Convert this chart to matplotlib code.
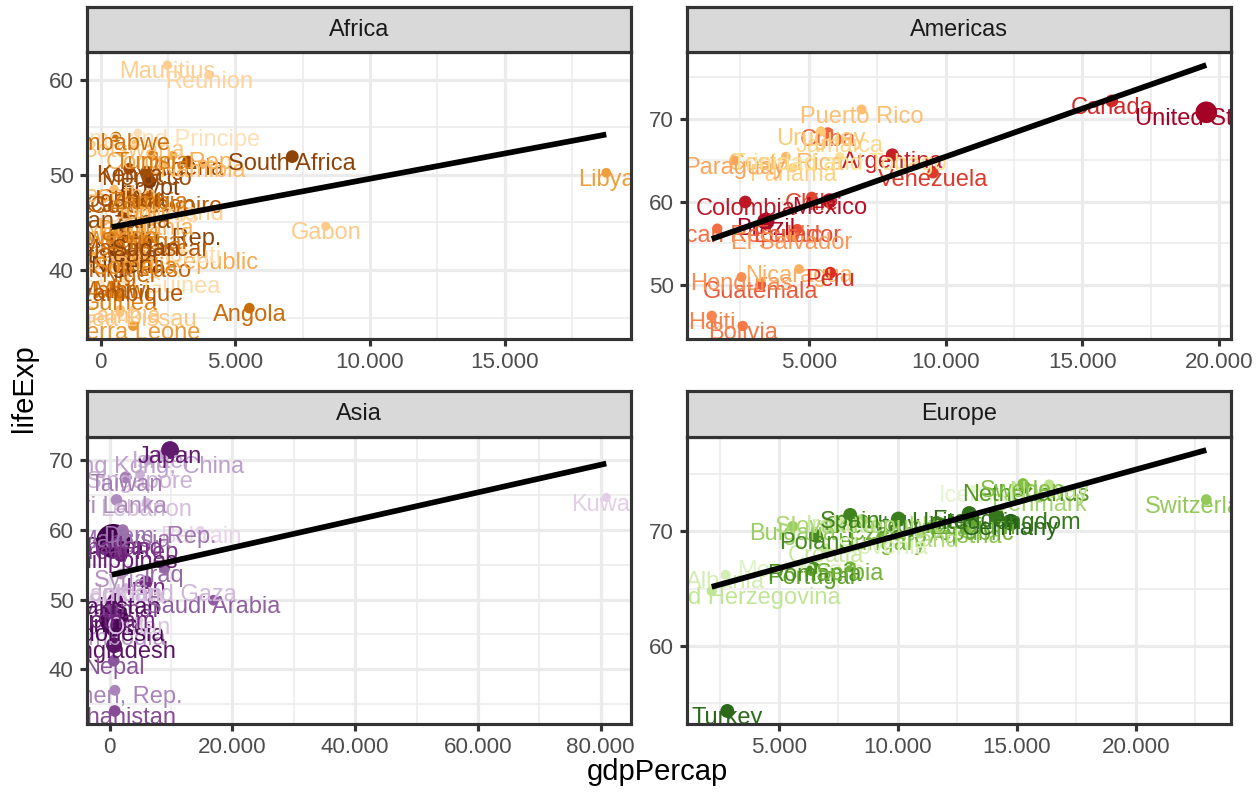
import numpy as np
import matplotlib
matplotlib.use("Agg")
import matplotlib.pyplot as plt
from matplotlib.colors import LinearSegmentedColormap
import matplotlib.transforms as mtransforms
from matplotlib.ticker import FuncFormatter, MultipleLocator

plt.rcParams['font.family'] = ['Liberation Sans', 'DejaVu Sans']

# ---------------- data (gapminder, 1967) ----------------
africa_country = ["Algeria", "Angola", "Benin", "Botswana", "Burkina Faso", "Burundi", "Cameroon",
                  "Central African Republic", "Chad", "Comoros", "Congo, Dem. Rep.", "Congo, Rep.",
                  "Cote d'Ivoire", "Djibouti", "Egypt", "Equatorial Guinea", "Eritrea", "Ethiopia",
                  "Gabon", "Gambia", "Ghana", "Guinea", "Guinea-Bissau", "Kenya", "Lesotho", "Liberia",
                  "Libya", "Madagascar", "Malawi", "Mali", "Mauritania", "Mauritius", "Morocco",
                  "Mozambique", "Namibia", "Niger", "Nigeria", "Reunion", "Rwanda",
                  "Sao Tome and Principe", "Senegal", "Sierra Leone", "Somalia", "South Africa",
                  "Sudan", "Swaziland", "Tanzania", "Togo", "Tunisia", "Uganda", "Zambia", "Zimbabwe"]
africa_lifeexp = [51.407, 35.985, 44.885, 53.298, 40.697, 43.548, 47.49, 41.478, 43.601, 46.472,
                  44.056, 52.04, 47.35, 42.074, 49.293, 38.987, 42.189, 42.115, 44.598, 35.857,
                  48.072, 37.197, 35.492, 50.654, 48.492, 41.536, 50.227, 42.881, 38.411, 38.487,
                  45.104, 61.557, 50.335, 38.113, 51.159, 40.118, 41.04, 60.542, 44.1, 54.425,
                  43.563, 34.113, 40.977, 51.927, 42.858, 46.633, 45.757, 46.769, 52.053, 48.051,
                  47.768, 53.995]
africa_gdp = [3246.99, 5522.78, 1035.83, 1214.71, 794.83, 412.98, 1508.45, 1136.06, 1196.81, 1876.03,
              861.59, 2677.94, 2052.05, 3020.05, 1814.88, 915.60, 468.80, 516.12, 8358.76, 734.78,
              1125.70, 708.76, 715.58, 1056.74, 498.64, 713.60, 18772.75, 1634.05, 495.51, 545.01,
              1421.15, 2475.39, 1711.04, 566.67, 3793.69, 1054.38, 1014.51, 4021.18, 510.96, 1384.84,
              1612.40, 1206.04, 1284.73, 7114.48, 1688.00, 2613.10, 848.22, 1477.60, 1932.36, 908.92,
              1777.08, 569.80]
africa_pop = [12760499, 5247469, 2427334, 553541, 5127935, 3330989, 6335506, 1733638, 3495967, 217378,
              19941073, 1179760, 4744870, 127617, 31681188, 259864, 1820319, 27860297, 489004, 439593,
              8490213, 3451418, 601287, 10191512, 996380, 1279406, 1759224, 6334556, 4147252, 5212416,
              1230542, 789309, 14770296, 8680909, 706640, 4534062, 47287752, 414024, 3451079, 70787,
              4049146, 2662190, 3428839, 20997321, 12716129, 420690, 12607312, 1735550, 4786986, 8900294,
              3900000, 4995432]

americas_country = ["Argentina", "Bolivia", "Brazil", "Canada", "Chile", "Colombia", "Costa Rica",
                    "Cuba", "Dominican Republic", "Ecuador", "El Salvador", "Guatemala", "Haiti",
                    "Honduras", "Jamaica", "Mexico", "Nicaragua", "Panama", "Paraguay", "Peru",
                    "Puerto Rico", "Trinidad and Tobago", "United States", "Uruguay", "Venezuela"]
americas_lifeexp = [65.634, 45.032, 57.632, 72.13, 60.523, 59.963, 65.424, 68.29, 56.751, 56.678,
                    55.855, 50.016, 46.243, 50.924, 67.51, 60.11, 51.884, 64.071, 64.951, 51.445,
                    71.1, 65.4, 70.76, 68.468, 63.479]
americas_gdp = [8052.95, 2586.89, 3429.86, 16076.59, 5106.65, 2678.73, 4161.73, 5690.27, 1653.72,
                4579.07, 4358.60, 3242.53, 1452.06, 2538.27, 6124.70, 5754.73, 4643.39, 4421.01,
                2299.38, 5788.09, 6929.28, 6133.77, 19530.37, 5444.62, 9541.47]
americas_pop = [22934225, 4040665, 88049823, 20819767, 8858908, 19764027, 1588717, 8139332, 4049146,
                5432424, 3479012, 5149581, 4318137, 2500689, 1861096, 47995559, 1865490, 1405486,
                2287985, 12132200, 2648961, 960155, 198712000, 2748579, 9709552]

asia_country = ["Afghanistan", "Bahrain", "Bangladesh", "Cambodia", "China", "Hong Kong, China",
                "India", "Indonesia", "Iran", "Iraq", "Israel", "Japan", "Jordan", "Korea, Dem. Rep.",
                "Korea, Rep.", "Kuwait", "Lebanon", "Malaysia", "Mongolia", "Myanmar", "Nepal", "Oman",
                "Pakistan", "Philippines", "Saudi Arabia", "Singapore", "Sri Lanka", "Syria", "Taiwan",
                "Thailand", "Vietnam", "West Bank and Gaza", "Yemen, Rep."]
asia_lifeexp = [34.02, 59.923, 43.453, 45.415, 58.381, 70.0, 47.193, 45.964, 52.469, 54.459, 70.75,
                71.43, 51.629, 59.942, 57.716, 64.624, 63.87, 59.371, 51.253, 49.379, 41.216, 46.988,
                49.8, 56.393, 49.901, 67.946, 64.266, 53.655, 67.5, 58.285, 47.838, 51.631, 36.984]
asia_gdp = [836.20, 14804.67, 721.19, 523.43, 612.71, 6197.96, 700.77, 762.43, 5906.73, 8931.46,
            8393.74, 9847.79, 2741.80, 2143.54, 2029.23, 80894.88, 6006.98, 2277.74, 1226.04, 349.00,
            676.44, 4720.94, 942.41, 1814.13, 16903.05, 4977.42, 1135.51, 1881.92, 2643.86, 1295.46,
            637.12, 2649.72, 862.44]
asia_pop = [11537966, 191540, 62821884, 6960067, 754550000, 3722800, 506000000, 109343000, 26538000,
            8519282, 2693585, 100825279, 1255058, 12617009, 30131000, 575003, 2186894, 10154878,
            1149500, 25870271, 11261690, 714775, 60641899, 35356600, 5618198, 1977600, 11737396,
            5680812, 13648692, 34024249, 39463910, 1142636, 6740785]

europe_country = ["Albania", "Austria", "Belgium", "Bosnia and Herzegovina", "Bulgaria", "Croatia",
                  "Czech Republic", "Denmark", "Finland", "France", "Germany", "Greece", "Hungary",
                  "Iceland", "Ireland", "Italy", "Montenegro", "Netherlands", "Norway", "Poland",
                  "Portugal", "Romania", "Serbia", "Slovak Republic", "Slovenia", "Spain", "Sweden",
                  "Switzerland", "Turkey", "United Kingdom"]
europe_lifeexp = [66.22, 70.14, 70.94, 64.79, 70.42, 68.5, 70.38, 72.96, 69.83, 71.55, 70.8, 71.0,
                  69.5, 73.73, 71.08, 71.06, 67.178, 73.82, 74.08, 69.61, 66.6, 66.8, 66.914, 70.98,
                  69.18, 71.44, 74.16, 72.77, 54.336, 71.36]
europe_gdp = [2760.20, 12834.60, 13149.04, 2172.35, 5577.00, 6960.30, 11399.44, 15937.21, 10921.64,
              12999.92, 14745.63, 8513.10, 9326.64, 13319.90, 7655.57, 10022.40, 5907.85, 15363.25,
              16361.88, 6557.15, 6361.52, 6470.87, 7991.71, 8412.90, 9405.49, 7993.51, 15258.30,
              22966.14, 2826.36, 14142.85]
europe_pop = [1984060, 7376998, 9556500, 3585000, 8310226, 4238504, 9835109, 4838800, 4605744,
              49937000, 76368453, 8716441, 10223422, 198676, 2900100, 52667100, 501035, 12596822,
              3786019, 31785378, 9103000, 19284814, 7616060, 4442238, 1646912, 32850275, 7867931,
              6063000, 33411317, 54959000]

# colour order within each continent (darkest first, as in gapminder country colours)
africa_color_order = ["Nigeria", "Egypt", "Ethiopia", "Congo, Dem. Rep.", "South Africa", "Sudan",
                      "Tanzania", "Kenya", "Morocco", "Algeria", "Uganda", "Ghana", "Mozambique",
                      "Madagascar", "Cote d'Ivoire", "Cameroon", "Burkina Faso", "Malawi", "Niger",
                      "Angola", "Zimbabwe", "Senegal", "Mali", "Zambia", "Tunisia", "Chad", "Guinea",
                      "Somalia", "Rwanda", "Burundi", "Benin", "Sierra Leone", "Libya", "Togo",
                      "Eritrea", "Central African Republic", "Congo, Rep.", "Mauritania", "Liberia",
                      "Namibia", "Lesotho", "Gambia", "Botswana", "Guinea-Bissau", "Gabon",
                      "Mauritius", "Swaziland", "Reunion", "Comoros", "Equatorial Guinea", "Djibouti",
                      "Sao Tome and Principe"]
americas_color_order = ["United States", "Brazil", "Mexico", "Colombia", "Argentina", "Canada", "Peru",
                        "Venezuela", "Chile", "Ecuador", "Guatemala", "Cuba", "Dominican Republic",
                        "Bolivia", "Haiti", "Honduras", "El Salvador", "Paraguay", "Nicaragua",
                        "Costa Rica", "Puerto Rico", "Uruguay", "Panama", "Jamaica",
                        "Trinidad and Tobago"]
asia_color_order = ["China", "India", "Indonesia", "Pakistan", "Bangladesh", "Japan", "Philippines",
                    "Vietnam", "Iran", "Thailand", "Korea, Rep.", "Myanmar", "Afghanistan", "Nepal",
                    "Saudi Arabia", "Iraq", "Malaysia", "Korea, Dem. Rep.", "Taiwan", "Yemen, Rep.",
                    "Sri Lanka", "Syria", "Cambodia", "Hong Kong, China", "Israel", "Jordan",
                    "Singapore", "West Bank and Gaza", "Lebanon", "Oman", "Mongolia", "Kuwait",
                    "Bahrain"]
europe_color_order = ["Germany", "Turkey", "France", "United Kingdom", "Italy", "Spain", "Poland",
                      "Romania", "Netherlands", "Greece", "Portugal", "Belgium", "Czech Republic",
                      "Serbia", "Hungary", "Sweden", "Austria", "Switzerland", "Bulgaria", "Denmark",
                      "Slovak Republic", "Finland", "Norway", "Bosnia and Herzegovina", "Croatia",
                      "Ireland", "Albania", "Slovenia", "Montenegro", "Iceland"]

palettes = {
    "Africa": ["#7F3B08", "#B35806", "#E08214", "#FDB863", "#FEE0B6"],
    "Americas": ["#A50026", "#D73027", "#F46D43", "#FDAE61", "#FEE090"],
    "Asia": ["#40004B", "#762A83", "#9970AB", "#C2A5CF", "#E7D4E8"],
    "Europe": ["#276419", "#4D9221", "#7FBC41", "#B8E186", "#E6F5D0"],
}

panels = [
    ("Africa", africa_country, africa_gdp, africa_lifeexp, africa_pop, africa_color_order, 5000),
    ("Americas", americas_country, americas_gdp, americas_lifeexp, americas_pop, americas_color_order, 5000),
    ("Asia", asia_country, asia_gdp, asia_lifeexp, asia_pop, asia_color_order, 20000),
    ("Europe", europe_country, europe_gdp, europe_lifeexp, europe_pop, europe_color_order, 5000),
]

# ---------------- layout ----------------
W, H = 1257, 798
DPI = 100
S = 1.44  # ggplot pt -> output scale
BASE = 14  # theme base size
fig = plt.figure(figsize=(W / DPI, H / DPI), dpi=DPI)

# (x0, x1, strip_top, panel_top, panel_bottom) in pixels
boxes = {
    "Africa": (87, 631, 7, 52, 339),
    "Americas": (687, 1231, 7, 52, 339),
    "Asia": (87, 631, 391, 437, 724),
    "Europe": (687, 1231, 391, 437, 724),
}

all_pop = np.concatenate([np.array(p[4], dtype=float) for p in panels])
pmin, pmax = all_pop.min(), all_pop.max()

fmt = FuncFormatter(lambda v, pos: f"{int(round(v)):,}".replace(",", "."))
border_lw = 0.55 * 2.845 * S
label_fs = 17.0

for name, countries, gdp, life, pop, order, xstep in panels:
    x0, x1, st, pt_, pb = boxes[name]
    ax = fig.add_axes([x0 / W, 1 - pb / H, (x1 - x0) / W, (pb - pt_) / H])
    sax = fig.add_axes([x0 / W, 1 - pt_ / H, (x1 - x0) / W, (pt_ - st) / H])

    gdp = np.array(gdp, dtype=float)
    life = np.array(life, dtype=float)
    pop = np.array(pop, dtype=float)

    cmap = LinearSegmentedColormap.from_list(name, palettes[name])
    n = len(order)
    rank = {c: i for i, c in enumerate(order)}
    colors = [cmap(rank[c] / (n - 1)) for c in countries]

    size = 1 + 5 * np.sqrt((pop - pmin) / (pmax - pmin))
    diam = (0.75 * (size * 2.845 + 0.945) + 0.71) * S * 1.2
    ax.scatter(gdp, life, s=diam ** 2, c=colors, edgecolors='none', zorder=3)

    off = mtransforms.offset_copy(ax.transData, fig=fig, x=0, y=-9.5, units='points')
    for c, xv, yv, col in zip(countries, gdp, life, colors):
        ax.text(xv, yv, c, color=col, fontsize=label_fs, ha='center', va='baseline',
                transform=off, clip_on=True, zorder=4)

    k, b = np.polyfit(gdp, life, 1)
    xs = np.array([gdp.min(), gdp.max()])
    ys = k * xs + b
    ax.plot(xs, ys, color='black', lw=2.845 * S, solid_capstyle='butt', zorder=5)

    xr = gdp.max() - gdp.min()
    ax.set_xlim(gdp.min() - 0.05 * xr, gdp.max() + 0.05 * xr)
    ylo = min(life.min(), ys.min())
    yhi = max(life.max(), ys.max())
    yr = yhi - ylo
    ax.set_ylim(ylo - 0.05 * yr, yhi + 0.05 * yr)

    ax.xaxis.set_major_locator(MultipleLocator(xstep))
    ax.xaxis.set_minor_locator(MultipleLocator(xstep / 2))
    ax.yaxis.set_major_locator(MultipleLocator(10))
    ax.yaxis.set_minor_locator(MultipleLocator(5))
    ax.xaxis.set_major_formatter(fmt)
    ax.grid(which='major', color='#EBEBEB', lw=border_lw, zorder=0)
    ax.grid(which='minor', color='#EBEBEB', lw=border_lw / 2, zorder=0)
    ax.set_axisbelow(True)
    ax.tick_params(which='major', length=BASE / 4 * S, width=border_lw, color='#333333',
                   labelsize=0.8 * BASE * S, labelcolor='#4D4D4D', pad=4.5)
    ax.tick_params(which='minor', length=0)
    for sp in ax.spines.values():
        sp.set_color('#333333')
        sp.set_linewidth(border_lw)
        sp.set_zorder(6)

    sax.set_facecolor('#D9D9D9')
    sax.set_xticks([])
    sax.set_yticks([])
    for sp in sax.spines.values():
        sp.set_color('#333333')
        sp.set_linewidth(border_lw)
    sax.text(0.5, 0.5, name, transform=sax.transAxes, ha='center', va='center',
             fontsize=0.8 * BASE * S * 1.05, color='#1A1A1A')

fig.text(657 / W, 1 - 772 / H, "gdpPercap", ha='center', va='center', fontsize=BASE * S * 1.04,
         color='black')
fig.text(24 / W, 1 - 388 / H, "lifeExp", ha='center', va='center', rotation=90,
         fontsize=BASE * S * 1.04, color='black')

fig.savefig("out.png", dpi=DPI, facecolor='white')
